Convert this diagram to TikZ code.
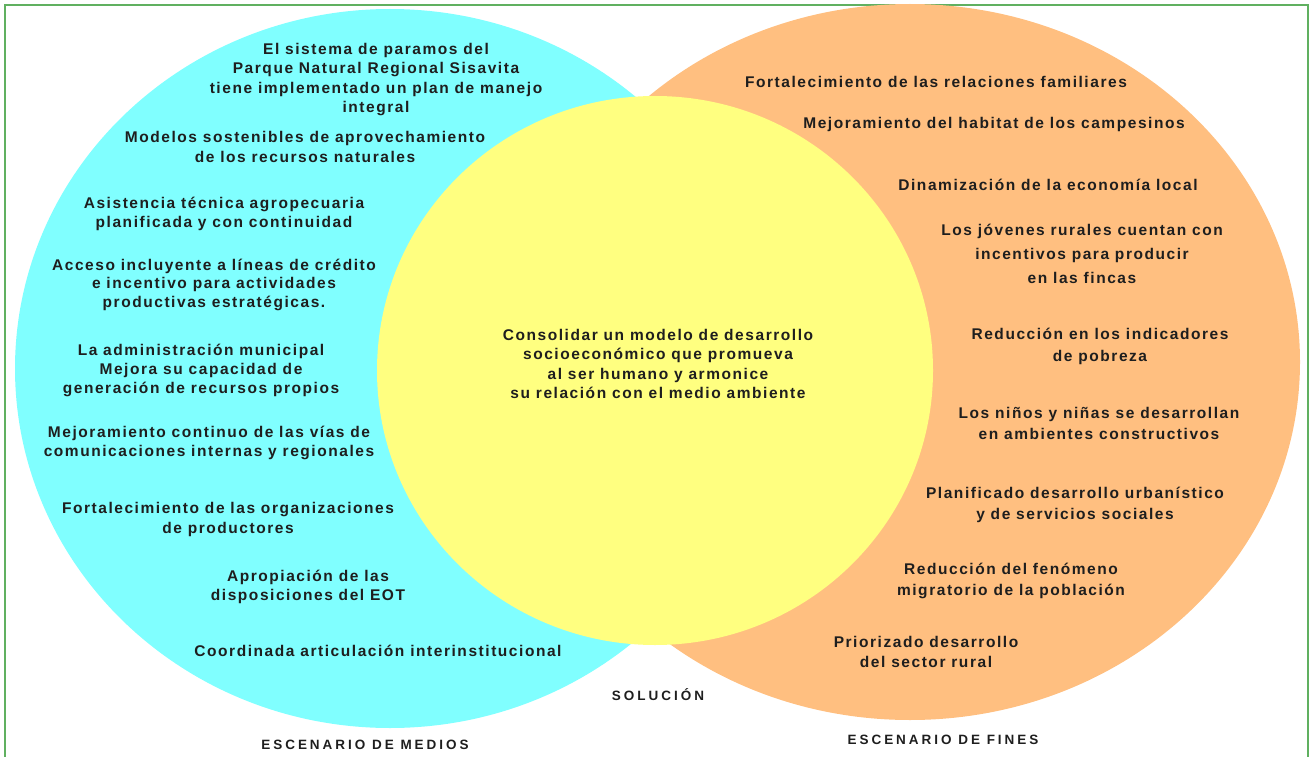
\documentclass[tikz,border=0pt]{standalone}
\usepackage{fontspec}
\setmainfont{Liberation Sans}
\newfontfamily\dfont{Liberation Sans}[LetterSpace=10]
\newfontfamily\lfont{Liberation Sans}[LetterSpace=22]
\usetikzlibrary{shapes.geometric}
\definecolor{cyanfill}{RGB}{128,255,255}
\definecolor{yellowfill}{RGB}{255,255,128}
\definecolor{orangefill}{RGB}{255,191,128}
\definecolor{framegreen}{RGB}{96,176,96}
\definecolor{textcol}{RGB}{30,30,30}
\tikzset{
  blob/.style={ellipse, draw=none, inner sep=0pt},
  txt/.style={font=\dfont\bfseries\fontsize{15.5}{19.5}\selectfont, align=center, inner sep=0pt, text=textcol},
  wide/.style={font=\dfont\bfseries\fontsize{15.5}{#1}\selectfont},
  lbl/.style={font=\lfont\bfseries\fontsize{13.5}{16}\selectfont, inner sep=0pt, text=textcol}
}
\begin{document}
\begin{tikzpicture}[x=1pt,y=-1pt]
\useasboundingbox (0,0) rectangle (1312,757);
\begin{scope}
\clip (0,0) rectangle (1312,757);
\draw[framegreen, line width=1.2pt] (5,790) -- (5,5) -- (1308,5) -- (1308,790);
\node[blob, fill=cyanfill, minimum width=750pt, minimum height=719pt] (medios) at (390,368.5) {};
\node[blob, fill=orangefill, minimum width=780pt, minimum height=716pt] (fines) at (910,362) {};
\node[blob, fill=yellowfill, minimum width=556pt, minimum height=549pt] (solucion) at (655,370.5) {};
\end{scope}

% left circle texts
\node[txt] (m1) at (376,79.5) {El sistema de paramos del\\Parque Natural Regional Sisavita\\tiene implementado un plan de manejo\\integral};
\node[txt] (m2) at (305,147) {Modelos sostenibles de aprovechamiento\\de los recursos naturales};
\node[txt] (m3) at (224,214) {Asistencia técnica agropecuaria\\planificada y con continuidad};
\node[txt, wide=18.5] (m4) at (214,284.5) {Acceso incluyente a líneas de crédito\\e incentivo para actividades\\productivas estratégicas.};
\node[txt, wide=19] (m5) at (201,370) {La administración municipal\\Mejora su capacidad de\\generación de recursos propios};
\node[txt] (m6) at (209,443) {Mejoramiento continuo de las vías de\\comunicaciones internas y regionales};
\node[txt] (m7) at (228,519.5) {Fortalecimiento de las organizaciones\\de productores};
\node[txt] (m8) at (308,587) {Apropiación de las\\disposiciones del EOT};
\node[txt] (m9) at (378,651) {Coordinada articulación interinstitucional};

% centre text
\node[txt, wide=19.3] (c1) at (658,364) {Consolidar un modelo de desarrollo\\socioeconómico que promueva\\al ser humano y armonice\\su relación con el medio ambiente};

% right circle texts
\node[txt] (f1) at (936,82) {Fortalecimiento de las relaciones familiares};
\node[txt] (f2) at (994,124) {Mejoramiento del habitat de los campesinos};
\node[txt] (f3) at (1048,185) {Dinamización de la economía local};
\node[txt, wide=24] (f4) at (1082,254) {Los jóvenes rurales cuentan con\\incentivos para producir\\en las fincas};
\node[txt, wide=22] (f5) at (1100,346) {Reducción en los indicadores\\de pobreza};
\node[txt, wide=21] (f6) at (1099,423.5) {Los niños y niñas se desarrollan\\en ambientes constructivos};
\node[txt, wide=21] (f7) at (1075,504.5) {Planificado desarrollo urbanístico\\y de servicios sociales};
\node[txt, wide=21] (f8) at (1011,580.5) {Reducción del fenómeno\\migratorio de la población};
\node[txt] (f9) at (926,652) {Priorizado desarrollo\\del sector rural};

% labels
\node[lbl] (lsol) at (658,695) {SOLUCIÓN};
\node[lbl] (lmed) at (365,745) {ESCENARIO DE MEDIOS};
\node[lbl] (lfin) at (943,740) {ESCENARIO DE FINES};
\end{tikzpicture}
\end{document}
